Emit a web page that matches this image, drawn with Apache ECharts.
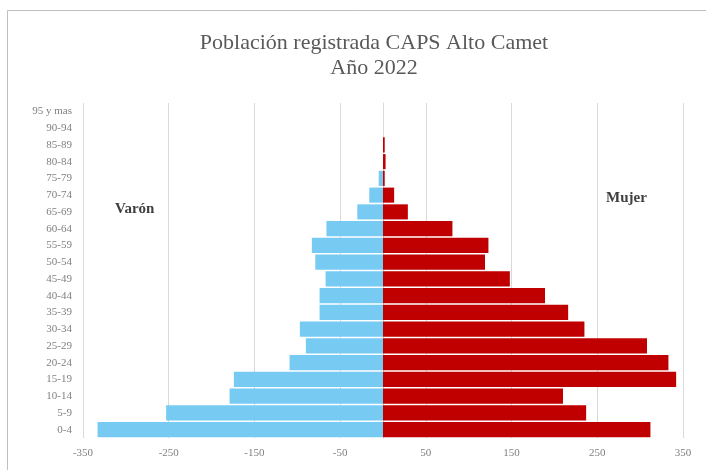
<!DOCTYPE html>
<html>
<head>
<meta charset="utf-8">
<style>
  html, body { margin: 0; padding: 0; background: #fff; }
  #chart { width: 706px; height: 470px; }
</style>
<script src="https://cdn.jsdelivr.net/npm/echarts@6/dist/echarts.min.js"></script>
</head>
<body>
<div id="chart"></div>
<script>
// grupos de edad, de abajo hacia arriba
var ageGroups = ['0-4', '5-9', '10-14', '15-19', '20-24', '25-29', '30-34', '35-39', '40-44',
  '45-49', '50-54', '55-59', '60-64', '65-69', '70-74', '75-79', '80-84', '85-89', '90-94', '95 y mas']
// varones (negativos, a la izquierda)
var varon = [-333, -253, -179, -174, -109, -90, -97, -74, -74, -67, -79, -83, -66, -30, -16, -5, 0, 0, 0, 0]
// mujeres
var mujer = [312, 237, 210, 342, 333, 308, 235, 216, 189, 148, 119, 123, 81, 29, 13, 2, 3, 2, 0, 0]

var serif = '"Liberation Serif", "DejaVu Serif", serif'

var chart = echarts.init(document.getElementById('chart'))
var option = {
  backgroundColor: '#fff',
  animation: false,
  title: {
    text: 'Población registrada CAPS Alto Camet\nAño 2022',
    left: 369,
    top: 26,
    textAlign: 'center',
    textStyle: {
      fontFamily: serif,
      fontSize: 22,
      fontWeight: 'normal',
      color: '#595959',
      lineHeight: 25
    }
  },
  graphic: [
    {
      type: 'rect',
      shape: { x: 7.5, y: 10.5, width: 720, height: 480 },
      style: { fill: 'none', stroke: '#bfbfbf', lineWidth: 1 },
      silent: true
    },
    {
      type: 'text', left: 115, top: 202,
      style: { text: 'Varón', font: 'bold 15px ' + serif, fill: '#404040' }
    },
    {
      type: 'text', left: 606, top: 191,
      style: { text: 'Mujer', font: 'bold 15px ' + serif, fill: '#404040' }
    }
  ],
  grid: { left: 83, right: 23, top: 103, bottom: 32 },
  xAxis: {
    type: 'value',
    min: -350,
    max: 350,
    interval: 100,
    axisLine: { show: false },
    axisTick: { show: false },
    splitLine: { show: true, lineStyle: { color: '#d9d9d9', width: 1 } },
    axisLabel: { color: '#808080', fontFamily: serif, fontSize: 11, margin: 10 }
  },
  yAxis: {
    type: 'category',
    data: ageGroups,
    axisLine: { show: true, onZero: true, lineStyle: { color: '#d9d9d9' } },
    axisTick: { show: false },
    axisLabel: {
      color: '#808080', fontFamily: serif, fontSize: 11, margin: 11,
      interval: 0
    }
  },
  series: [
    {
      name: 'Varón',
      type: 'bar',
      stack: 'total',
      data: varon,
      barCategoryGap: '10%',
      itemStyle: { color: '#77CBF3' }
    },
    {
      name: 'Mujer',
      type: 'bar',
      stack: 'total',
      data: mujer,
      barCategoryGap: '10%',
      itemStyle: { color: '#C00000' }
    }
  ]
}
chart.setOption(option)
</script>
</body>
</html>
